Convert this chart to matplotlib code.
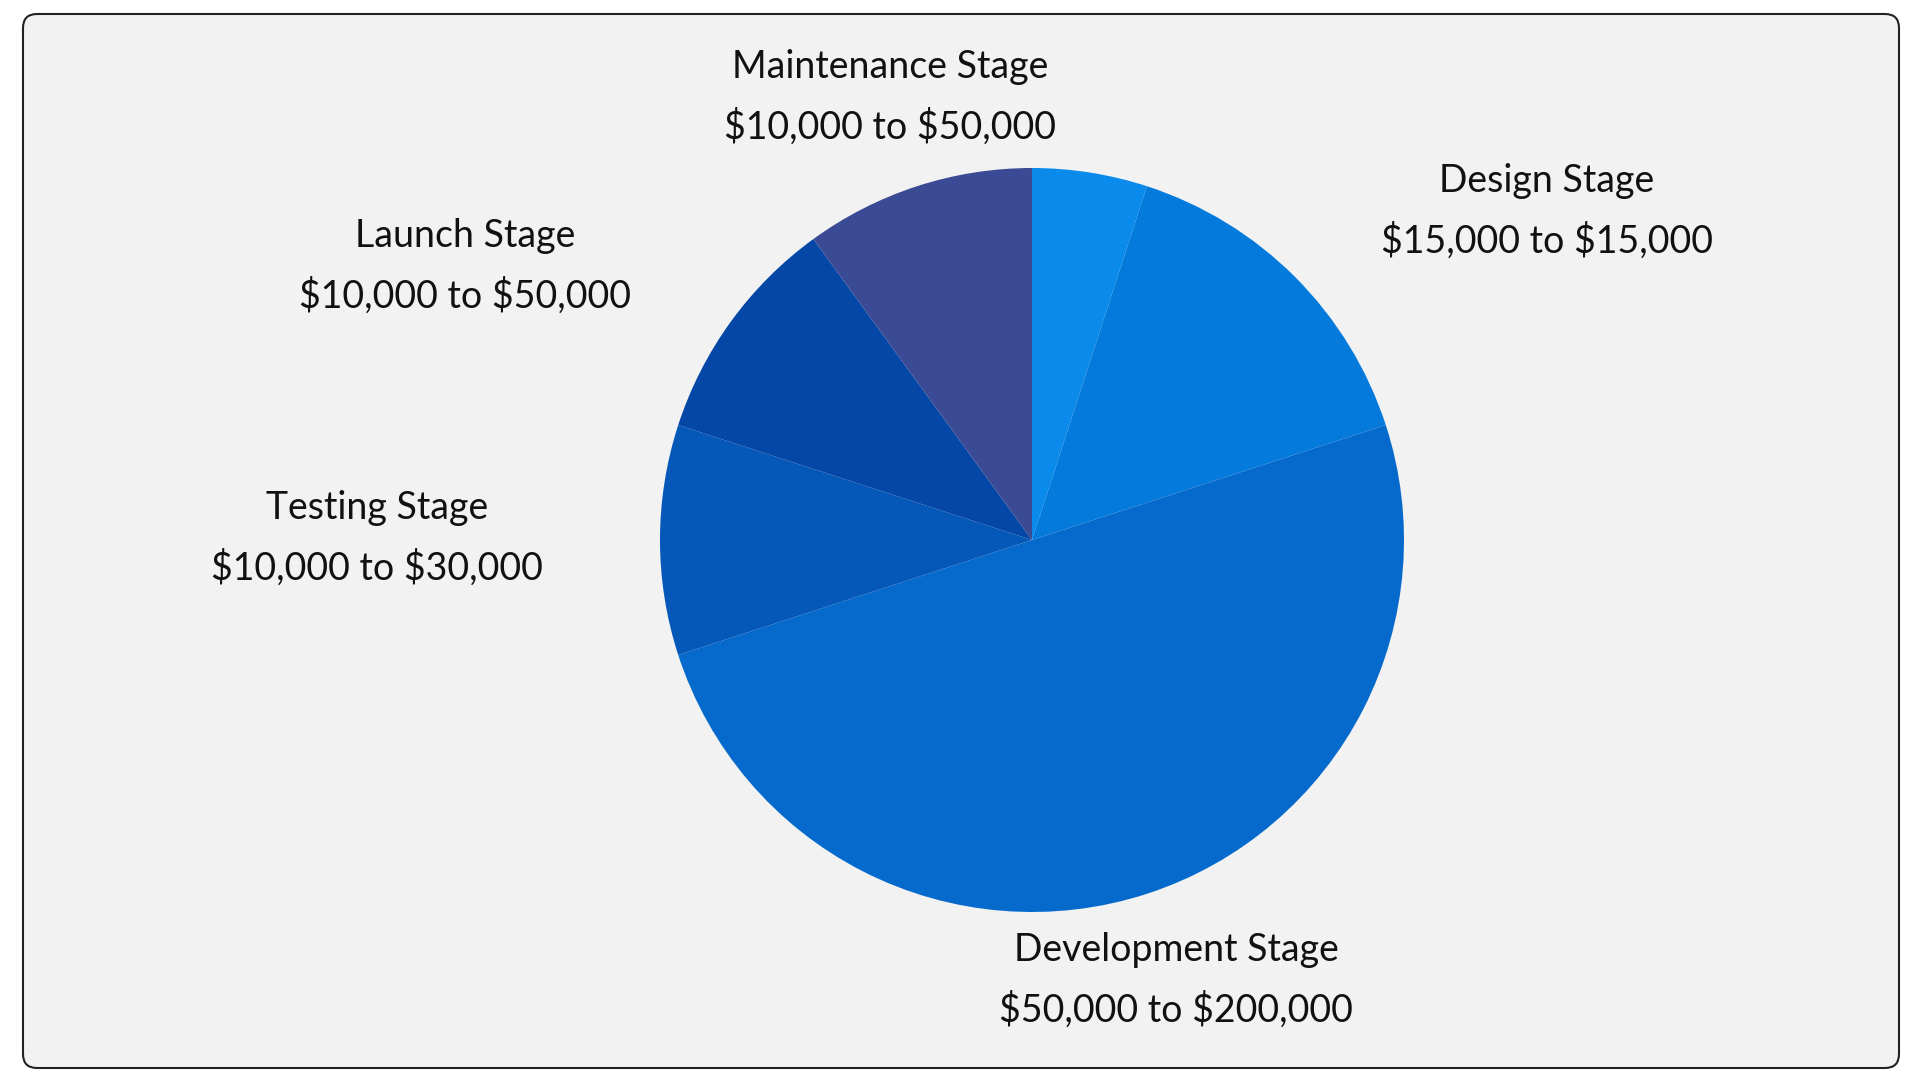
import matplotlib
matplotlib.use("Agg")
import matplotlib.pyplot as plt
from matplotlib.patches import FancyBboxPatch

stages = ["", "Design Stage", "Development Stage", "Testing Stage", "Launch Stage", "Maintenance Stage"]
ranges = ["", "$15,000 to $15,000", "$50,000 to $200,000", "$10,000 to $30,000", "$10,000 to $50,000", "$10,000 to $50,000"]
shares = [5, 15, 50, 10, 10, 10]
colors = ["#0A8AEB", "#047BDC", "#056ACC", "#0557B8", "#0447A6", "#3A4A94"]
# label centres in figure pixels (x, y from bottom)
label_pos = [None, (1547, 869), (1176, 100), (377, 542), (465, 814), (890, 983)]

plt.rcParams['font.family'] = ['Lato', 'DejaVu Sans']
plt.rcParams['text.parse_math'] = False
fig = plt.figure(figsize=(19.2, 10.8), dpi=100)
fig.patch.set_facecolor("white")
bg = fig.add_axes([0, 0, 1, 1])
bg.set_xlim(0, 1920); bg.set_ylim(0, 1080); bg.axis("off")
bg.add_patch(FancyBboxPatch((23, 12), 1876, 1054, boxstyle="round,pad=0,rounding_size=14",
                            facecolor="#F2F2F2", edgecolor="#222222", linewidth=1.5))

r = 372
ax = fig.add_axes([(1032 - r) / 1920, (540 - r) / 1080, 2 * r / 1920, 2 * r / 1080])
ax.pie(shares, colors=colors, startangle=90, counterclock=False, radius=1,
       wedgeprops=dict(linewidth=0))
ax.set_xlim(-1, 1); ax.set_ylim(-1, 1); ax.axis("off")

for s, rg, p in zip(stages, ranges, label_pos):
    if p is None:
        continue
    fig.text(p[0] / 1920, (p[1] + 30) / 1080, s, ha="center", va="center", fontsize=27, color="#111111")
    fig.text(p[0] / 1920, (p[1] - 30) / 1080, rg, ha="center", va="center", fontsize=27, color="#111111")

fig.savefig("out.png", dpi=100)
